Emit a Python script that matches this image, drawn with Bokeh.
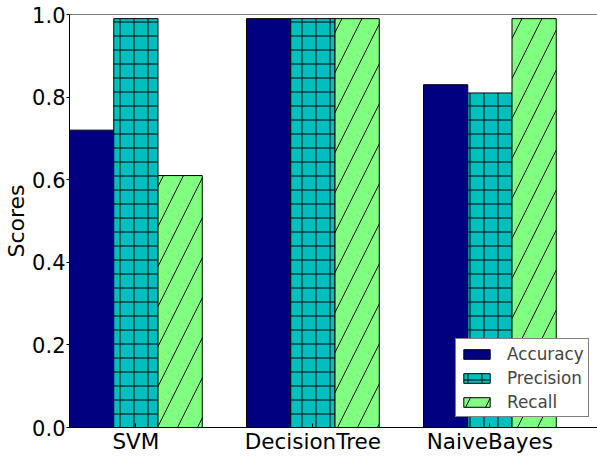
from bokeh.plotting import figure
from bokeh.models import (ColumnDataSource, Range1d, FixedTicker, PrintfTickFormatter,
                          Legend, LegendItem, Span)
from bokeh.transform import dodge
from bokeh.embed import file_html
from bokeh.resources import INLINE

models = ["SVM", "DecisionTree", "NaiveBayes"]
accuracy = [0.72, 0.99, 0.83]
precision = [0.99, 0.99, 0.81]
recall = [0.61, 0.99, 0.99]
y_ticks = [0.0, 0.2, 0.4, 0.6, 0.8, 1.0]

FONT = "DejaVu Sans"
source = ColumnDataSource(dict(x=list(range(len(models))), accuracy=accuracy,
                               precision=precision, recall=recall))

p = figure(width=597, height=456, output_backend="svg", toolbar_location=None,
           x_range=Range1d(-0.375, 2.608), y_range=Range1d(0, 1.0),
           min_border_left=69, min_border_right=0, min_border_top=14, min_border_bottom=28)
p.outline_line_color = None
p.xgrid.grid_line_color = None
p.ygrid.grid_line_color = None
p.background_fill_color = "white"
p.border_fill_color = "white"

w = 0.25
r1 = p.vbar(x=dodge("x", -0.25, range=p.x_range), top="accuracy", width=w, source=source,
            fill_color="#000080", line_color="black", line_width=1)
r2 = p.vbar(x=dodge("x", 0.0, range=p.x_range), top="precision", width=w, source=source,
            fill_color="#00BFBF", line_color="black", line_width=1,
            hatch_pattern="+", hatch_color="black", hatch_scale=14, hatch_weight=1)
r3 = p.vbar(x=dodge("x", 0.25, range=p.x_range), top="recall", width=w, source=source,
            fill_color="#80FF80", line_color="black", line_width=1,
            hatch_pattern="/", hatch_color="black", hatch_scale=40, hatch_weight=1)

p.add_layout(Span(location=1.0, dimension="width", line_color="black", line_width=1))

# axes
p.xaxis.ticker = FixedTicker(ticks=list(range(len(models))))
p.xaxis.major_label_overrides = {i: m for i, m in enumerate(models)}
p.xaxis.major_tick_in = 4
p.xaxis.major_tick_out = 0
p.xaxis.minor_tick_line_color = None
p.xaxis.major_label_standoff = 1

p.yaxis.ticker = FixedTicker(ticks=y_ticks)
p.yaxis.formatter = PrintfTickFormatter(format="%.1f")
p.yaxis.major_tick_in = 0
p.yaxis.major_tick_out = 3
p.yaxis.minor_tick_line_color = None
p.yaxis.major_label_standoff = 1
p.yaxis.axis_label = "Scores"
p.yaxis.axis_label_standoff = 0
p.yaxis.axis_label_text_font_style = "normal"
p.yaxis.axis_label_text_font_size = "22px"
p.yaxis.axis_label_text_font = FONT
p.yaxis.axis_label_text_color = "black"

for ax in (p.xaxis[0], p.yaxis[0]):
    ax.major_label_text_font = FONT
    ax.major_label_text_color = "black"
    ax.axis_line_color = "black"
    ax.major_tick_line_color = "black"
p.xaxis.major_label_text_font_size = "21.5px"
p.yaxis.major_label_text_font_size = "21px"

legend = Legend(items=[LegendItem(label="Accuracy", renderers=[r1]),
                       LegendItem(label="Precision", renderers=[r2]),
                       LegendItem(label="Recall", renderers=[r3])],
                location=(386, 10))
legend.label_text_font = FONT
legend.label_text_font_size = "16.8px"
legend.glyph_width = 33
legend.glyph_height = 12
legend.label_standoff = 14
legend.label_height = 21
legend.spacing = 3
legend.padding = 4
legend.margin = 0
legend.border_line_color = "black"
legend.border_line_width = 1
legend.background_fill_color = "white"
legend.background_fill_alpha = 1.0
p.add_layout(legend, "center")

open("out.html", "w").write(file_html(p, INLINE))
